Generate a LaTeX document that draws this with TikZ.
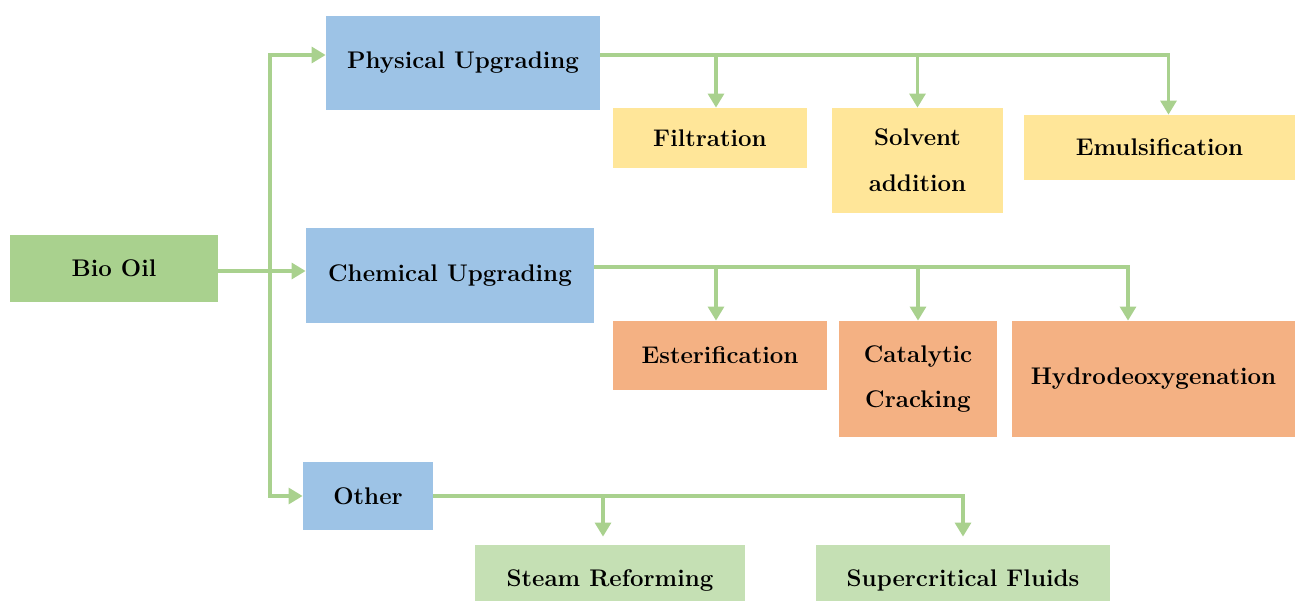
\documentclass[tikz,border=0pt]{standalone}
\usetikzlibrary{arrows.meta}

\definecolor{biogreen}{HTML}{A9D18E}
\definecolor{upblue}{HTML}{9DC3E6}
\definecolor{physyellow}{HTML}{FFE699}
\definecolor{chemorange}{HTML}{F4B183}
\definecolor{othergreen}{HTML}{C5E0B4}
\definecolor{linkgreen}{HTML}{A9D18E}

\tikzset{
    box/.style={inner sep=0pt, align=center,
        font=\bfseries\fontsize{13.7}{26}\selectfont},
    link/.style={draw=linkgreen, line width=2.2pt,
        -{Triangle[length=8pt,width=9pt]}}
}

\begin{document}
\begin{tikzpicture}[x=0.02cm, y=-0.02cm]

    % 描画範囲
    \clip (0,0) rectangle (1295,601);

    % 箱の配置
    \node[box, fill=biogreen, minimum width=4.16cm, minimum height=1.34cm] (bio) at (114,268.5) {Bio Oil};

    \node[box, fill=upblue, minimum width=5.48cm, minimum height=1.88cm] (phys) at (463,63) {Physical Upgrading};
    \node[box, fill=upblue, minimum width=5.76cm, minimum height=1.90cm] (chem) at (450,275.5) {Chemical Upgrading};
    \node[box, fill=upblue, minimum width=2.60cm, minimum height=1.36cm] (other) at (368,496) {Other};

    \node[box, fill=physyellow, minimum width=3.88cm, minimum height=1.20cm] (filt) at (710,138) {Filtration};
    \node[box, fill=physyellow, minimum width=3.42cm, minimum height=2.10cm] (solv) at (917.5,160.5) {Solvent\\addition};
    \node[box, fill=physyellow, minimum width=5.42cm, minimum height=1.30cm] (emul) at (1159.5,147.5) {Emulsification};

    \node[box, fill=chemorange, minimum width=4.28cm, minimum height=1.38cm] (ester) at (720,355.5) {Esterification};
    \node[box, fill=chemorange, minimum width=3.16cm, minimum height=2.32cm] (cat) at (918,379) {Catalytic\\Cracking};
    \node[box, fill=chemorange, minimum width=5.66cm, minimum height=2.32cm] (hdo) at (1153.5,379) {Hydrodeoxygenation};

    \node[box, fill=othergreen, minimum width=5.40cm, minimum height=1.40cm] (steam) at (610,580) {Steam Reforming};
    \node[box, fill=othergreen, minimum width=5.88cm, minimum height=1.40cm] (super) at (963,580) {Supercritical Fluids};

    % 分岐点
    \coordinate (split) at (270,271);

    % 幹の線
    \draw[link] (bio.east |- split) -- (chem.west |- split);
    \draw[link] (split) |- ([yshift=0.16cm]phys.west);
    \draw[link] (split) |- (other.west);

    % 物理的改質
    \draw[link] ([yshift=0.16cm]phys.east) -| ([xshift=0.12cm]filt.north);
    \draw[link] ([yshift=0.16cm]phys.east) -| (solv.north);
    \draw[link] ([yshift=0.16cm]phys.east) -| ([xshift=0.18cm]emul.north);

    % 化学的改質
    \draw[link] ([yshift=0.17cm]chem.east) -| ([xshift=-0.08cm]ester.north);
    \draw[link] ([yshift=0.17cm]chem.east) -| (cat.north);
    \draw[link] ([yshift=0.17cm]chem.east) -| ([xshift=-0.51cm]hdo.north);

    % その他
    \draw[link, shorten >=0.16cm] (other.east) -| ([xshift=-0.14cm]steam.north);
    \draw[link, shorten >=0.16cm] (other.east) -| (super.north);

\end{tikzpicture}
\end{document}
